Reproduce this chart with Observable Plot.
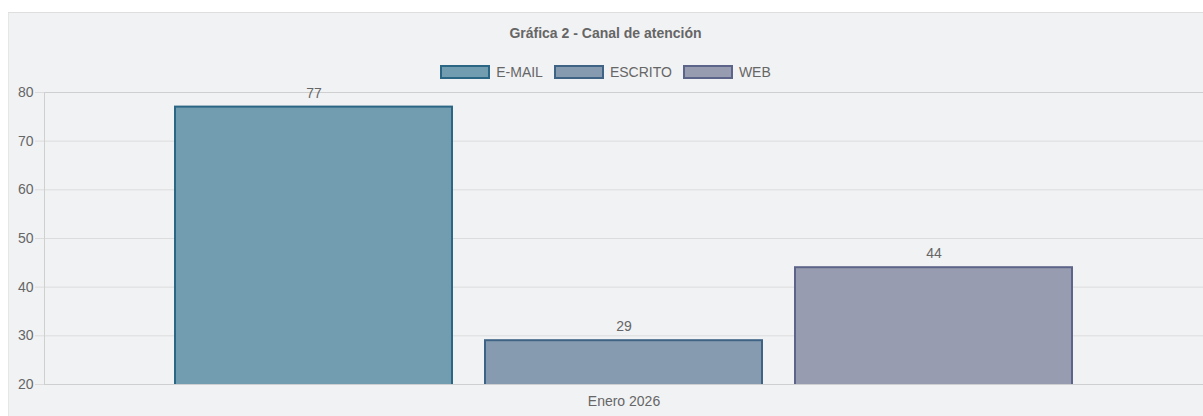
<!DOCTYPE html>
<html>
<head>
<meta charset="utf-8">
<script src="https://cdn.jsdelivr.net/npm/d3@7"></script>
<script src="https://cdn.jsdelivr.net/npm/@observablehq/plot@0.6"></script>
<style>
  html, body { margin: 0; padding: 0; background: #ffffff; width: 1203px; height: 416px; overflow: hidden; }
  body { position: relative; font-family: "Liberation Sans", Arial, Helvetica, sans-serif; }
  #panel { position: absolute; left: 8px; top: 12px; width: 1195px; height: 404px; background: #f1f2f4;
           border-top: 1px solid #dedede; border-left: 1px solid #e6e6e6; box-sizing: border-box; }
  #title { position: absolute; left: 8px; top: 23px; width: 1195px; text-align: center; font-weight: bold;
           font-size: 14px; line-height: 20px; color: #666; }
  #legend { position: absolute; left: 8px; top: 62px; width: 1195px; display: flex; justify-content: center;
            align-items: center; font-size: 14px; line-height: 20px; color: #666; }
  .item { display: flex; align-items: center; margin: 0 5.5px; }
  .box { width: 50px; height: 14px; box-sizing: border-box; border: 2px solid; margin-right: 6px; }
  #chart { position: absolute; left: 8px; top: 82px; }
</style>
</head>
<body>
<div id="panel"></div>
<div id="title"></div>
<div id="legend"></div>
<div id="chart"></div>
<script>
const titulo = "Gráfica 2 - Canal de atención";
const categorias = ["Enero 2026"];
const series = ["E-MAIL", "ESCRITO", "WEB"];
const valores = [77, 29, 44];
const rellenos = ["#729cb0", "#869bb0", "#989cb0"];
const bordes = ["#2b6684", "#3e6384", "#5c6489"];
const yTicks = [20, 30, 40, 50, 60, 70, 80];

document.getElementById("title").textContent = titulo;
const legend = document.getElementById("legend");
series.forEach((s, i) => {
  const it = document.createElement("div");
  it.className = "item";
  const b = document.createElement("div");
  b.className = "box";
  b.style.background = rellenos[i];
  b.style.borderColor = bordes[i];
  const t = document.createElement("span");
  t.textContent = s;
  it.appendChild(b); it.appendChild(t);
  legend.appendChild(it);
});

const data = series.map((s, i) => ({mes: categorias[0], serie: s, valor: valores[i]}));
const borde = new Map(series.map((s, i) => [s, bordes[i]]));

const chart = Plot.plot({
  width: 1195,
  height: 334,
  marginTop: 10,
  marginBottom: 32,
  marginLeft: 36,
  marginRight: 0,
  style: {background: "transparent", fontFamily: "'Liberation Sans', Arial, Helvetica, sans-serif", fontSize: "14px", color: "#666"},
  fx: {domain: categorias, padding: 0, label: null, axis: null},
  x: {domain: series, paddingInner: 0.106, paddingOuter: 0.42, axis: null},
  y: {domain: [20, 80], ticks: yTicks},
  color: {domain: series, range: rellenos},
  marks: [
    Plot.gridY(yTicks, {stroke: "#dcdcdc", strokeOpacity: 1}),
    Plot.axisY(yTicks, {tickSize: 9, tickPadding: 2, stroke: "#dcdcdc", fill: "#666", label: null}),
    Plot.barY(data, {fx: "mes", x: "serie", y: "valor", fill: "serie", stroke: d => borde.get(d.serie), strokeWidth: 2, clip: true}),
    Plot.frame({stroke: "#cfcfcf"}),
    Plot.text(data, {fx: "mes", x: "serie", y: "valor", text: d => String(d.valor), dy: -14, fill: "#666", fontSize: 14}),
    Plot.axisFx({anchor: "bottom", tickSize: 0, tickPadding: 12, label: null, fill: "#666"})
  ]
});
document.getElementById("chart").appendChild(chart);
</script>
</body>
</html>
